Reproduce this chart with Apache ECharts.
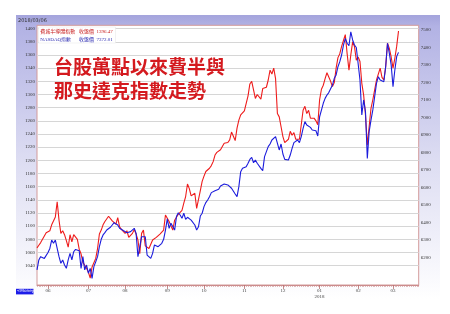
<!DOCTYPE html>
<html><head><meta charset="utf-8">
<script src="https://cdn.jsdelivr.net/npm/echarts@6/dist/echarts.min.js"></script>
<style>html,body{margin:0;padding:0;background:#fff}#c{width:450px;height:314px}</style>
</head><body><div id="c"></div>
<script>
// ---- data ----
const firstDay = '2017-05-23';
const lastDay = '2018-03-06';
const holidays = ['2017-05-29','2017-07-04','2017-09-04','2017-11-23','2017-12-25','2018-01-01','2018-01-15','2018-02-19'];
const padDays = 11;

const titleLines = ['台股萬點以來費半與', '那史達克指數走勢'];
const semiName = '費城半導體指數';
const nasdaqName = 'NASDAQ指數';
const closeLabel = '收盤價';

// one value per trading day (May 23 2017 .. Mar 6 2018)
const semiClose = [
  1067,1071,1075,1078,1085,1090,
  1091,1093,1102,1105,1114,1137,1109,1089,1093,1087,1078,1068,1087,1076,1087,1086,1080,1065,1058,1045,1048,1036,
  1030,1021,1038,1036,1051,1066,1088,1094,1102,1107,1109,1115,1112,1108,1105,1103,1113,1099,1095,1093,
  1089,1093,1083,1080,1089,1095,1088,1079,1058,1089,1094,1070,1068,1066,1065,1079,1081,1083,1083,1088,1089,1094,1117,
  1119,1107,1105,1094,1109,1112,1118,1119,1124,1135,1145,1164,1157,1146,1145,1150,1127,1125,1154,1168,
  1176,1183,1186,1188,1192,1198,1208,1212,1215,1216,1221,1226,1227,1227,1231,1243,1241,1230,1249,1261,1269,1272,
  1275,1274,1298,1316,1320,1319,1294,1300,1297,1293,1309,1308,1311,1322,1337,1331,1340,1324,1271,1266,1251,
  1236,1227,1228,1232,1244,1238,1242,1232,1235,1232,1254,1276,1282,1271,1276,1264,1267,1264,1260,1254,
  1292,1308,1314,1324,1333,1330,1320,1312,1318,1340,1356,1362,1373,1382,1391,1362,1337,1360,1380,1373,1352,
  1357,1350,1317,1299,1269,1223,1251,1279,1292,1307,1322,1319,1340,1326,1322,1342,1378,1370,1357,
  1340,1355,1373,1396.47
];
const nasdaqClose = [
  6128,6185,6204,6200,6194,6204,
  6228,6251,6299,6280,6299,6309,6204,6166,6185,6156,6137,6185,6223,6185,6232,6245,6251,6238,6137,6204,6128,6156,
  6109,6137,6080,6147,6175,6204,6261,6303,6328,6341,6356,6364,6372,6385,6398,6404,6385,6366,6356,6353,
  6347,6341,6333,6347,6356,6366,6337,6204,6260,6318,6328,6318,6213,6204,6194,6223,6271,6261,6261,6271,6280,6303,6356,
  6420,6366,6395,6400,6356,6433,6455,6442,6423,6452,6417,6429,6423,6413,6404,6385,6356,6375,6436,6452,
  6490,6513,6528,6547,6570,6575,6581,6585,6589,6608,6614,6619,6608,6614,6623,6595,6589,6562,6547,6604,6690,6709,
  6699,6718,6738,6760,6772,6741,6757,6738,6734,6709,6696,6776,6776,6833,6848,6871,6861,6890,6900,6814,6848,
  6791,6760,6751,6757,6785,6823,6856,6848,6871,6856,6890,6938,6976,6957,6947,6943,6928,6938,6924,6894,
  7004,7042,7081,7109,7128,7142,7147,7185,7224,7243,7290,7319,7357,7414,7452,7424,7410,7490,7443,7414,7400,
  7395,7214,7014,7100,7033,6766,6919,6985,7043,7119,7195,7233,7214,7223,7204,7290,7424,7366,7300,
  7176,7271,7348,7372.01
];
const leftTicks = [1040,1060,1080,1100,1120,1140,1160,1180,1200,1220,1240,1260,1280,1300,1320,1340,1360,1380,1400];
const rightTicks = [6200,6300,6400,6500,6600,6700,6800,6900,7000,7100,7200,7300,7400,7500];

// ---- trading-day categories ----
function iso(d){ return d.toISOString().slice(0,10); }
const tradingDays = [];
let d = new Date(firstDay + 'T00:00:00Z');
const end = new Date(lastDay + 'T00:00:00Z');
while (d <= end) {
  const wd = d.getUTCDay(), s = iso(d);
  if (wd !== 0 && wd !== 6 && holidays.indexOf(s) < 0) tradingDays.push(s);
  d.setUTCDate(d.getUTCDate() + 1);
}
const categories = tradingDays.slice();
while (categories.length < tradingDays.length + padDays) {
  const wd = d.getUTCDay();
  if (wd !== 0 && wd !== 6) categories.push(iso(d));
  d.setUTCDate(d.getUTCDate() + 1);
}
function isMonthStart(i){
  if (i <= 0 || i >= tradingDays.length) return false;
  return tradingDays[i].slice(5,7) !== tradingDays[i-1].slice(5,7);
}

const chart = echarts.init(document.getElementById('c'), null, {renderer:'canvas'});
const serif = 'Liberation Serif';
const lastSemi = semiClose[semiClose.length-1].toFixed(2);
const lastNas = nasdaqClose[nasdaqClose.length-1].toFixed(2);
const plain = (v) => String(v);

chart.setOption({
  animation: false,
  backgroundColor: '#fff',
  grid: { left: 37, top: 25.3, width: 381.7, height: 259.7, show: true,
          backgroundColor: '#ffffff', borderColor: '#d39a9a', borderWidth: 1 },
  xAxis: [{
    type: 'category', data: categories, boundaryGap: false,
    axisLine: { show: true, lineStyle: { color: '#cc8a8a', width: 1 } },
    axisTick: { show: true, interval: 0, length: 2, lineStyle: { color: '#cc9090', width: 0.6 } },
    axisLabel: {
      interval: (i) => isMonthStart(i), fontSize: 5, color: '#444', fontFamily: serif, margin: 3, lineHeight: 6,
      formatter: (v) => { const m = v.slice(5,7); return m === '01' ? m + '\n' + v.slice(0,4) : m; }
    },
    splitLine: { show: false }
  }, {
    type: 'category', data: categories, boundaryGap: false, position: 'bottom',
    axisLine: { show: false },
    axisTick: { show: true, interval: (i) => isMonthStart(i), length: 4, lineStyle: { color: '#b87070', width: 0.8 } },
    axisLabel: { show: false }, splitLine: { show: false }
  }],
  yAxis: [{
    type: 'value', position: 'left', min: 1010.6, max: 1405.1,
    axisLine: { show: false },
    axisTick: { show: false, customValues: leftTicks },
    axisLabel: { customValues: leftTicks, formatter: plain, fontSize: 5, color: '#333', fontFamily: serif, margin: 2 },
    splitLine: { show: true, lineStyle: { color: '#d6d6d6', width: 1 } }
  }, {
    type: 'value', position: 'right', min: 6041.8, max: 7526.9,
    axisLine: { show: false },
    axisTick: { show: false, customValues: rightTicks },
    axisLabel: { customValues: rightTicks, formatter: plain, fontSize: 5, color: '#333', fontFamily: serif, margin: 2 },
    splitLine: { show: false }
  }],
  series: [{
    name: semiName, type: 'line', xAxisIndex: 0, yAxisIndex: 0, data: semiClose,
    showSymbol: false, symbol: 'none', connectNulls: true, z: 3,
    lineStyle: { color: '#ee1c1c', width: 1.1 }
  }, {
    name: nasdaqName, type: 'line', xAxisIndex: 0, yAxisIndex: 1, data: nasdaqClose,
    showSymbol: false, symbol: 'none', connectNulls: true, z: 4,
    lineStyle: { color: '#1c1cdc', width: 1.1 }
  }],
  graphic: [
    { type: 'rect', z: -10, shape: { x: 16, y: 15, width: 424, height: 284 },
      style: { fill: { type: 'linear', x: 0, y: 0, x2: 0, y2: 1, colorStops: [
        { offset: 0, color: '#a4a4dc' }, { offset: 0.04, color: '#b2b2e4' },
        { offset: 0.5, color: '#dcdcf2' }, { offset: 0.85, color: '#f4f4fb' }, { offset: 1, color: '#ffffff' } ] } } },
    { type: 'text', z: 10, left: 18, top: 18.2,
      style: { text: lastDay.replace(/-/g,'/'), fontSize: 5, fill: '#333', fontFamily: 'DejaVu Sans' } },
    { type: 'rect', z: 10, shape: { x: 38.5, y: 27, width: 77, height: 16 },
      style: { fill: '#ffffff', stroke: '#e4e4e4', lineWidth: 0.5 } },
    { type: 'text', z: 11, left: 40.3, top: 28.8, style: { text: semiName, fontSize: 5, fill: '#c82020', fontFamily: 'Noto Sans CJK TC' } },
    { type: 'text', z: 11, left: 79, top: 28.8, style: { text: closeLabel, fontSize: 5, fill: '#c82020', fontFamily: 'Noto Sans CJK TC' } },
    { type: 'text', z: 11, left: 96.5, top: 28.8, style: { text: lastSemi, fontSize: 5, fill: '#c82020', fontFamily: serif } },
    { type: 'text', z: 11, left: 40.3, top: 37, style: { text: nasdaqName, fontSize: 5, fill: '#2828b0', fontFamily: serif } },
    { type: 'text', z: 11, left: 79, top: 37, style: { text: closeLabel, fontSize: 5, fill: '#2828b0', fontFamily: 'Noto Sans CJK TC' } },
    { type: 'text', z: 11, left: 96.5, top: 37, style: { text: lastNas, fontSize: 5, fill: '#2828b0', fontFamily: serif } },
    { type: 'text', z: 12, left: 54, top: 57.5,
      style: { text: titleLines[0], fontSize: 19, fontWeight: 'bold', fill: '#d41a1f', fontFamily: 'Noto Sans CJK TC' } },
    { type: 'text', z: 12, left: 54, top: 81,
      style: { text: titleLines[1], fontSize: 19, fontWeight: 'bold', fill: '#d41a1f', fontFamily: 'Noto Sans CJK TC' } },
    { type: 'rect', z: 10, shape: { x: 16, y: 288.8, width: 17.5, height: 5.6 }, style: { fill: '#1c1ce8' } },
    { type: 'text', z: 11, left: 16.8, top: 289.2, style: { text: '<Money>', fontSize: 4.2, fill: '#ffffff', fontFamily: 'DejaVu Sans' } }
  ]
});
</script></body></html>
